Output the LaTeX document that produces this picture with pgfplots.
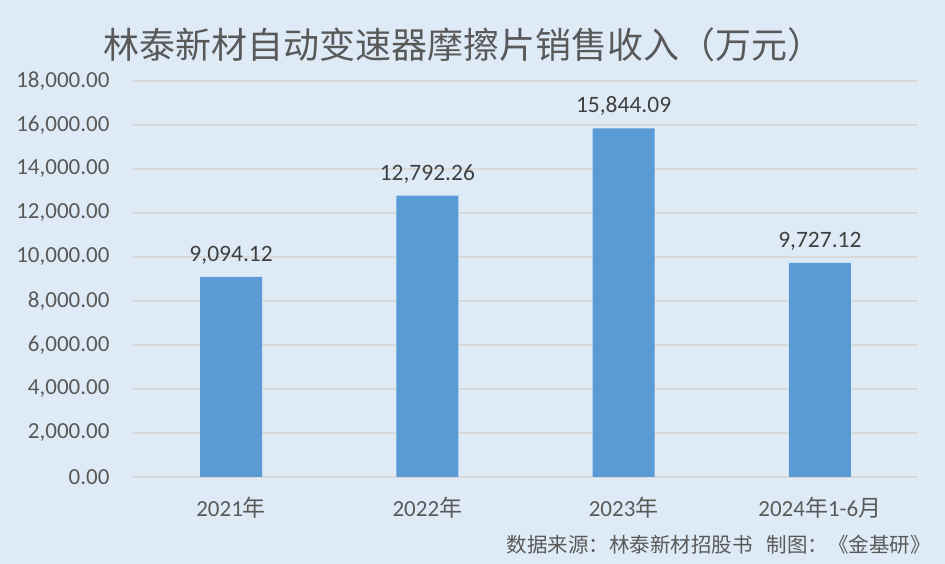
\documentclass[border=0pt]{standalone}
\usepackage{pgfplots}
\pgfplotsset{compat=1.18}
\usepackage{fontspec}
\setmainfont{Carlito}
\newfontfamily\cjk{Noto Sans CJK SC}
\definecolor{bgblue}{RGB}{222,235,247}
\definecolor{barblue}{RGB}{91,155,213}
\definecolor{txtgray}{RGB}{89,89,89}
\definecolor{lblgray}{RGB}{64,64,64}
\definecolor{gridgray}{RGB}{217,217,217}
\pgfkeys{/pgf/number format/.cd,fixed,fixed zerofill,precision=2,1000 sep={,},assume math mode=true}
\begin{document}
\begin{tikzpicture}[x=1pt,y=1pt]
\fill[bgblue] (0,0) rectangle (945,564);
\useasboundingbox (0,0) rectangle (945,564);
\node[txtgray,font=\cjk\fontsize{36}{40}\selectfont] at (463,519) {林泰新材自动变速器摩擦片销售收入（万元）};
\node[txtgray,anchor=east,inner sep=0pt,font=\cjk\fontsize{20.5}{24}\selectfont] at (931,19) {数据来源：林泰新材招股书\hspace{14pt}制图：《金基研》};
\begin{axis}[
    at={(133pt,87pt)},anchor=south west,
    width=785pt,height=396pt,scale only axis,
    axis line style={draw=none},
    xmin=-0.5,xmax=3.5,
    ymin=0,ymax=18000,
    ytick distance=2000,
    scaled y ticks=false,
    xtick=data,
    xticklabels={2021{\cjk 年},2022{\cjk 年},2023{\cjk 年},2024{\cjk 年}1-6{\cjk 月}},
    ymajorgrids,
    grid style={gridgray,line width=1.2pt},
    major tick length=0pt,
    tick label style={txtgray,font=\fontsize{23}{26}\selectfont},
    yticklabel style={xshift=-20pt},
    xticklabel style={yshift=-17pt},
    ybar,
    bar width=62pt,
]
\addplot[
    fill=barblue,draw=none,
    nodes near coords,
    every node near coord/.append style={lblgray,font=\fontsize{23.5}{26}\selectfont,yshift=9pt}
]
    coordinates{
        (0,9094.12)
        (1,12792.26)
        (2,15844.09)
        (3,9727.12)
    };
\end{axis}
\end{tikzpicture}
\end{document}
